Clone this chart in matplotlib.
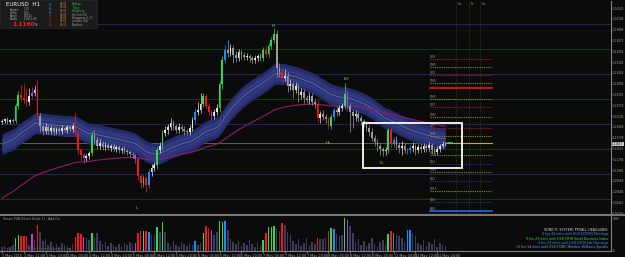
import numpy as np
import matplotlib
matplotlib.use("Agg")
import matplotlib.pyplot as plt
from matplotlib.patches import Rectangle

# ---------------- data (EURUSD H1, 1 May 2015 -> 11 May 2015) ----------------
open0 = 1.1204
closes = [
    1.1206, 1.1210, 1.1204, 1.1208, 1.1206, 1.1236, 1.1258, 1.1252, 1.1248, 1.1244,
    1.1256, 1.1262, 1.1268, 1.1216, 1.1196, 1.1186, 1.1194, 1.1186, 1.1192, 1.1184,
    1.1190, 1.1186, 1.1192, 1.1188, 1.1194, 1.1190, 1.1196, 1.1182, 1.1148, 1.1138,
    1.1132, 1.1136, 1.1142, 1.1178, 1.1168, 1.1156, 1.1162, 1.1154, 1.1158, 1.1152,
    1.1156, 1.1150, 1.1154, 1.1148, 1.1150, 1.1146, 1.1144, 1.1140, 1.1138, 1.1130,
    1.1096, 1.1082, 1.1092, 1.1078, 1.1104, 1.1112, 1.1118, 1.1148, 1.1156, 1.1182,
    1.1188, 1.1194, 1.1202, 1.1196, 1.1188, 1.1194, 1.1190, 1.1186, 1.1184, 1.1192,
    1.1208, 1.1224, 1.1228, 1.1240, 1.1256, 1.1236, 1.1224, 1.1216, 1.1224, 1.1232,
    1.1280, 1.1328, 1.1348, 1.1342, 1.1352, 1.1338, 1.1332, 1.1344, 1.1338, 1.1334,
    1.1336, 1.1332, 1.1328, 1.1332, 1.1336, 1.1332, 1.1348, 1.1340, 1.1356, 1.1368,
    1.1380, 1.1312, 1.1304, 1.1292, 1.1296, 1.1276, 1.1280, 1.1268, 1.1276, 1.1258,
    1.1264, 1.1252, 1.1248, 1.1256, 1.1244, 1.1240, 1.1212, 1.1220, 1.1214, 1.1210,
    1.1196, 1.1214, 1.1228, 1.1224, 1.1232, 1.1236, 1.1260, 1.1236, 1.1224, 1.1216,
    1.1220, 1.1212, 1.1206, 1.1200, 1.1192, 1.1184, 1.1172, 1.1164, 1.1156, 1.1150,
    1.1146, 1.1148, 1.1188, 1.1160, 1.1168, 1.1158, 1.1152, 1.1156, 1.1148, 1.1148,
    1.1152, 1.1156, 1.1148, 1.1154, 1.1150, 1.1156, 1.1152, 1.1158, 1.1148, 1.1144,
    1.1150, 1.1156, 1.1160, 1.1160,
]
# wick lengths in pips above / below the candle body
upper_wick = [
    4, 3, 5, 3, 4, 6, 8, 20, 30, 24,
    16, 12, 10, 20, 6, 5, 8, 4, 6, 4,
    5, 4, 6, 3, 5, 4, 6, 28, 6, 4,
    4, 5, 4, 8, 10, 6, 8, 4, 6, 5,
    4, 6, 4, 5, 4, 6, 4, 5, 4, 4,
    4, 5, 6, 4, 6, 8, 6, 6, 8, 6,
    8, 6, 10, 6, 5, 8, 4, 6, 5, 6,
    6, 8, 16, 22, 6, 4, 6, 4, 6, 8,
    6, 8, 10, 20, 8, 6, 8, 6, 5, 6,
    6, 5, 4, 6, 5, 6, 6, 8, 6, 6,
    12, 8, 10, 6, 14, 8, 10, 6, 8, 6,
    8, 6, 6, 8, 6, 6, 8, 6, 8, 6,
    4, 6, 6, 8, 6, 6, 22, 8, 6, 6,
    8, 6, 6, 5, 6, 6, 8, 6, 6, 6,
    4, 6, 4, 4, 6, 8, 6, 10, 6, 5,
    6, 8, 4, 6, 8, 6, 5, 6, 4, 6,
    6, 5, 6, 4,
]
lower_wick = [
    3, 4, 3, 4, 3, 4, 6, 6, 5, 8,
    6, 4, 6, 8, 12, 8, 6, 6, 5, 6,
    4, 6, 5, 4, 6, 4, 5, 6, 8, 10,
    10, 6, 6, 6, 8, 6, 6, 5, 6, 4,
    6, 4, 6, 5, 6, 6, 5, 6, 6, 8,
    8, 10, 8, 14, 6, 8, 6, 8, 6, 8,
    6, 8, 6, 8, 6, 5, 6, 8, 6, 6,
    6, 6, 6, 6, 6, 4, 6, 8, 6, 6,
    8, 10, 6, 8, 6, 16, 8, 6, 8, 6,
    6, 8, 6, 5, 6, 6, 6, 6, 5, 6,
    6, 18, 10, 8, 6, 12, 8, 16, 6, 14,
    8, 10, 6, 8, 6, 8, 8, 10, 6, 8,
    6, 6, 6, 8, 6, 6, 6, 10, 40, 24,
    10, 8, 8, 6, 6, 8, 6, 8, 10, 12,
    10, 8, 6, 8, 6, 8, 10, 14, 6, 8,
    6, 8, 10, 6, 8, 6, 8, 6, 8, 6,
    6, 6, 4, 4,
]
volumes = [
    400, 500, 300, 400, 600, 1300, 1600, 1500, 1500, 1500,
    600, 1700, 1100, 2600, 1900, 1000, 1200, 600, 900, 500,
    700, 400, 800, 600, 500, 300, 700, 1400, 1800, 1700,
    1400, 1300, 1100, 1800, 1400, 1800, 1000, 700, 900, 500,
    800, 600, 400, 700, 500, 800, 600, 900, 700, 800,
    1800, 2000, 2000, 2000, 1900, 1600, 1600, 2400, 1900, 2900,
    1900, 800, 500, 1000, 600, 400, 900, 700, 500, 800,
    600, 1000, 600, 800, 1800, 2500, 2300, 2100, 1600, 1900,
    3000, 2900, 3000, 2100, 1200, 900, 700, 1000, 500, 800,
    600, 1100, 700, 400, 900, 600, 1100, 1800, 2400, 2400,
    2500, 2300, 2000, 2800, 2600, 1900, 1600, 1000, 700, 1200,
    500, 800, 1300, 600, 900, 700, 1300, 1200, 1200, 1300,
    2000, 2300, 2200, 1700, 1500, 1600, 3300, 3100, 2500, 1800,
    900, 1200, 600, 1000, 500, 800, 1300, 700, 400, 900,
    1100, 600, 1700, 2000, 1800, 1600, 1500, 1300, 900, 2100,
    2100, 1800, 1500, 800, 600, 1100, 500, 900, 700, 1200,
    400, 800, 600, 500,
]
# PVA bar class: n normal, g/r climax bull/bear, b rising volume, m special
pva = ("nnnnnggrrr" "nmnrnnnnnn" "nnnnnnnrrr" "mnngnnnnnn" "nnnnnnnnnm"
       "rrgrbnngng" "nnnnnnnnnn" "nbnngrrmnn" "ggbnnnnnnn" "nnnnnngrgg"
       "gnnrnnnnnn" "nnnnnnrnnn" "rgbnnngmnn" "nnnnnnnnnn" "nngrbnnnnb"
       "bnnnnnnnnn" "nnnn")

dragon_seed = 1.1156      # EMA34 value at start of window
trend_seed = 1.1048       # EMA89 value at start of window
dragon_half = 0.0021

current_price = 1.11617
round_levels_major = [1.1400, 1.1300, 1.1200, 1.1100]
round_levels_minor = [1.1350, 1.1250, 1.1150, 1.1050]

level_prices = [1.1330, 1.1314, 1.1298, 1.1282, 1.1272, 1.1250, 1.1234, 1.1214,
                1.1192, 1.1176, 1.1138, 1.1120, 1.1104, 1.1086, 1.1066, 1.1044, 1.1026]
level_kinds = ["r", "y", "r", "y", "R", "y", "r", "y", "r", "y", "y", "b", "y", "b", "y", "b", "B"]
level_names = ["DR3", "DM5", "DR2", "DM4", "", "DM3", "DR1", "DM2", "DPP", "DM1",
               "DS.5", "DS1", "DM0", "DS2", "DM-1", "DS3", "B99"]

swing_labels = ["H", "LH", "HL", "LL", "L"]
swing_bars = [99.7, 126.8, 119.9, 139.7, 49.6]
swing_prices = [1.1396, 1.1290, 1.1162, 1.1122, 1.1032]

time_labels = ["1 May 2015", "1 May 11:00", "1 May 19:00", "4 May 04:00", "4 May 12:00",
               "4 May 20:00", "5 May 04:00", "5 May 12:00", "5 May 20:00", "6 May 04:00",
               "6 May 12:00", "6 May 20:00", "7 May 04:00", "7 May 12:00", "7 May 20:00",
               "8 May 04:00", "8 May 12:00", "8 May 20:00", "11 May 04:00", "11 May 12:00",
               "11 May 20:00"]
price_ticks = [1.14320, 1.14104, 1.13888, 1.13672, 1.13456, 1.13240, 1.13024, 1.12808,
               1.12592, 1.12376, 1.12160, 1.11944, 1.11728, 1.11512, 1.11296, 1.11080,
               1.10864, 1.10648, 1.10432, 1.10216]

day_marks = ["Lu", "Fr", "Lu"]
headlines = [("SONIC R. SYSTEM: PPOALL HEADLINES:", "#d8d8d8"),
             ("9 hrs 44 mins until EUR ECOFIN Meetings", "#3a8cff"),
             ("9 hrs 29 mins until USD NFIB Small Business Index", "#3fd24a"),
             ("9 hrs 29 mins until USD JOLTS Job Openings", "#3a8cff"),
             ("13 hrs 14 mins until USD FOMC Member Williams Speaks", "#5aa8ff")]

# ---------------- derived series ----------------
N = len(closes)
c = np.array(closes)
o = np.r_[open0, c[:-1]]
hi = np.maximum(o, c) + np.array(upper_wick) * 1e-4
lo = np.minimum(o, c) - np.array(lower_wick) * 1e-4
x = np.arange(N)


def ema(vals, n, seed):
    a = 2.0 / (n + 1)
    out, e = [], seed
    for v in vals:
        e = e + a * (v - e)
        out.append(e)
    return np.array(out)


dragon = ema(c, 34, dragon_seed)
trend = ema(c, 89, trend_seed)

# ---------------- figure ----------------
W, H = 625, 257
BG = "#0b0b0b"
fig = plt.figure(figsize=(W / 100, H / 100), dpi=100, facecolor=BG)


def fx(px):
    return px / W


def fy(py):
    return 1 - py / H


def bx(px):
    return (px - 2) / 2.72


ax = fig.add_axes([0, fy(214), fx(611), 213 / H])
axv = fig.add_axes([0, fy(251), fx(611), 35 / H])
xlim = (bx(0), bx(611))
for a in (ax, axv):
    a.set_facecolor(BG)
    a.set_xlim(*xlim)
    for s in ("left", "top"):
        a.spines[s].set_visible(False)
    for s in ("right", "bottom"):
        a.spines[s].set_color("#808080")
        a.spines[s].set_linewidth(0.8)
    a.yaxis.tick_right()
    a.tick_params(axis="y", colors="#a8a8a8", labelsize=2.0, length=1.0, width=0.5, pad=0.4)
    a.tick_params(axis="x", colors="#a8a8a8", labelsize=2.4, length=1.5, width=0.5, pad=1)

ax.set_ylim(1.1448 - 214 / 5000, 1.1448 - 1 / 5000)
ax.set_xticks([])
ax.set_yticks(price_ticks)
ax.set_yticklabels([f"{p:.5f}" for p in price_ticks])

# round number lines
for p in round_levels_major:
    ax.axhline(p, color="#24245e", lw=0.7, zorder=1)
for p in round_levels_minor:
    ax.axhline(p, color="#143c14", lw=0.7, zorder=1)

# current price line
ax.plot([xlim[0], N - 1], [current_price] * 2, color="#6a6a6a", lw=0.6, zorder=1)
ax.plot([N - 1, bx(492)], [current_price] * 2, color="#b0b040", lw=0.8, zorder=4)
ax.plot([bx(448), bx(452)], [current_price] * 2, color="#30e040", lw=1.2, zorder=6)

# dragon band
ax.fill_between(x, dragon - dragon_half, dragon + dragon_half, color="#252b68", lw=0, zorder=2)
ax.fill_between(x, dragon - 0.7 * dragon_half, dragon + 0.7 * dragon_half, color="#2c357a", lw=0, zorder=2)
ax.plot(x, dragon, color="#8a8fae", lw=0.35, zorder=2.2)
ax.plot(x, dragon + 0.35 * dragon_half, color="#46508e", lw=0.3, zorder=2.2)
ax.plot(x, dragon - 0.35 * dragon_half, color="#46508e", lw=0.3, zorder=2.2)

# trend EMA
ax.plot(x, trend, color="#8e1c6e", lw=0.8, zorder=2.5)

# candles
special = {"g": "#2bdc4a", "r": "#ff1414", "b": "#1a8cff", "m": "#a844f0"}
cols = []
for i in range(N):
    k = pva[i]
    if k in special:
        cols.append(special[k])
    else:
        cols.append("#e2e2e2" if c[i] >= o[i] else "#9c9c9c")
ax.vlines(x, lo, hi, colors=cols, lw=0.5, zorder=3)
body = np.maximum(np.abs(c - o), 0.00006)
ax.bar(x, body, bottom=np.minimum(o, c), width=0.62, color=cols, lw=0, zorder=3.2)

# swing labels
for t, b, p in zip(swing_labels, swing_bars, swing_prices):
    ax.text(b, p, t, color="#9acd32", fontsize=3.2, ha="center", va="center", zorder=6)

# highlight rectangle
ax.add_patch(Rectangle((bx(363), 1.1448 - 168 / 5000), bx(462) - bx(363), 45 / 5000,
                       fill=False, ec="white", lw=1.3, zorder=7))

# right-side levels
lv_col = {"r": "#b01818", "y": "#8a8a20", "b": "#3030a0", "R": "#e01010", "B": "#2060d0"}
for p, k, nm in zip(level_prices, level_kinds, level_names):
    if k in ("R", "B"):
        ax.plot([bx(430), bx(492)], [p, p], color=lv_col[k], lw=1.3, zorder=4)
    else:
        ax.plot([bx(430), bx(492)], [p, p], color=lv_col[k], lw=0.8, ls=(0, (1, 1)), zorder=4)
    if nm:
        ax.text(bx(430), p, nm, color="#9a9a9a", fontsize=2.2, ha="left", va="bottom", zorder=5)

# day separators in the future area
for px, t in zip([456, 469, 480], day_marks):
    ax.axvline(bx(px), color="#50501c", lw=0.5, ls=(0, (1, 1.5)), zorder=1)
    ax.text(bx(px) + 0.6, 1.1448 - 4 / 5000, t, color="#a0a040", fontsize=2.6, ha="left", va="center")

# current price label on axis
fig.text(fx(612), fy(144), f"{current_price:.5f}", fontsize=2.0, color="#101010", va="center",
         ha="left", bbox=dict(boxstyle="square,pad=0.15", fc="#c8c8c8", ec="none"))

# ---------------- volume panel ----------------
vcols = []
for i in range(N):
    k = pva[i]
    vcols.append(special[k] if k in special else "#3c3c5c")
axv.bar(x, volumes, width=0.55, color=vcols, lw=0)
axv.set_ylim(0, 3500)
axv.set_yticks([0, 3300])
axv.set_yticklabels(["0", "3300"])
ticks = [8 * k for k in range(len(time_labels))]
axv.set_xticks(ticks)
axv.set_xticklabels(time_labels, ha="left")
axv.text(bx(3), 3250, "Smart PVA (Chart Scale 1) - Add On", color="#9a9a9a", fontsize=2.3,
         va="center", ha="left")
axv.text(bx(4), 220, "\u00a9 2001-2015, MetaQuotes Software Corp.", color="#5a5a5a",
         fontsize=2.3, va="center", ha="left")
for k, (t, col) in enumerate(headlines):
    fig.text(fx(608), fy(230 + 4.3 * k), t, color=col, fontsize=2.3, ha="right", va="center")

# separator between panels
fig.add_artist(plt.Line2D([0, fx(625)], [fy(215), fy(215)], color="#7a7a7a", lw=1.4))

# ---------------- info box ----------------
fig.add_artist(Rectangle((0, fy(28)), fx(97), 28 / H, transform=fig.transFigure,
                         fc="#1b1b1b", ec="#2a2a2a", lw=0.5, zorder=8))
fig.text(fx(6), fy(5), "EURUSD  H1", color="white", fontsize=4.0, va="center", ha="left", zorder=9)
rows = [("Spread", "1.10"), ("LotPip", "1.00"), ("Range", "130/32"), ("Swaps", "-4.66/-1.06")]
for k, (a_, b_) in enumerate(rows):
    fig.text(fx(10), fy(9.5 + 3.3 * k), a_, color="#b0b0b0", fontsize=1.8, va="center", zorder=9)
    fig.text(fx(24), fy(9.5 + 3.3 * k), b_, color="#b0b0b0", fontsize=1.8, va="center", zorder=9)
fig.text(fx(12), fy(24.5), "1.1160", color="#ff2020", fontsize=4.2, fontweight="bold",
         va="center", zorder=9)
fig.text(fx(35), fy(25), "9", color="#dddddd", fontsize=2.6, va="center", zorder=9)
for k, (d, col) in enumerate([("8", "#3090ff"), ("8", "#3090ff"), ("6", "#3090ff"),
                              ("1", "#ff2020"), ("5", "#ff2020"), ("R", "#ff2020")]):
    fig.text(fx(50), fy(4.5 + 4.2 * k), d, color=col, fontsize=2.6, va="center", ha="center", zorder=9)
sessions = [("Sydney", "#30c840"), ("Tokyo", "#30c840"), ("Hongkong", "#30c840"),
            ("Helsinki (6)", "#a8a8a8"), ("Singapore (L_F)", "#a8a8a8"),
            ("London (Ov)", "#a8a8a8"), ("NewYork", "#a8a8a8")]
for k, (nm, col) in enumerate(sessions):
    fig.text(fx(60), fy(4 + 3.5 * k), "08:01", color="#c88a3c", fontsize=1.9, va="center", zorder=9)
    fig.text(fx(72), fy(4 + 3.5 * k), nm, color=col, fontsize=1.9, va="center", zorder=9)

fig.savefig("out.png", dpi=100, facecolor=BG)
